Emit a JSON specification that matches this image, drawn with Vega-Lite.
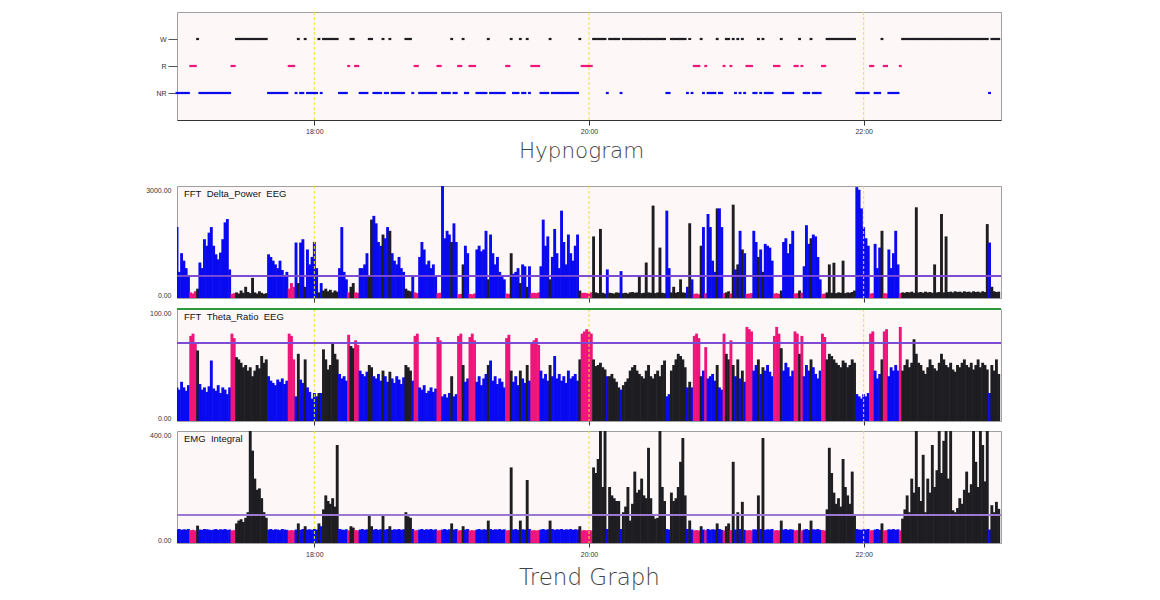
{
  "$schema": "https://vega.github.io/schema/vega-lite/v6.json",
  "background": "white",
  "padding": {"left": 145, "top": 11, "right": 10, "bottom": 5},
  "config": {
    "view": {"fill": "#fdf8f7", "stroke": "#a0a0a0"},
    "axis": {"labelFont": "Liberation Sans", "labelFontSize": 7, "labelColor": "#333", "grid": false, "domain": false, "ticks": false, "title": null},
    "scale": {"continuousPadding": 0},
    "legend": {"disable": true}
  },
  "datasets": {
    "ep": [
      {"t":0,"s":"NR","d":1900,"h":30,"e":48},{"t":1,"s":"NR","d":700,"h":28,"e":50},{"t":2,"s":"NR","d":1200,"h":35,"e":47},{"t":3,"s":"NR","d":1000,"h":30,"e":49},{"t":4,"s":"NR","d":800,"h":27,"e":48},{"t":5,"s":"NR","d":600,"h":32,"e":50},
      {"t":6,"s":"R","d":150,"h":76,"e":46},{"t":7,"s":"R","d":120,"h":78,"e":47},{"t":8,"s":"R","d":180,"h":70,"e":45},{"t":9,"s":"W","d":250,"h":63,"e":62},
      {"t":10,"s":"NR","d":950,"h":33,"e":48},{"t":11,"s":"NR","d":800,"h":28,"e":47},{"t":12,"s":"NR","d":1575,"h":30,"e":50},{"t":13,"s":"NR","d":1400,"h":26,"e":49},{"t":14,"s":"NR","d":1750,"h":31,"e":48},{"t":15,"s":"NR","d":1900,"h":54,"e":46},{"t":16,"s":"NR","d":1400,"h":29,"e":48},{"t":17,"s":"NR","d":1170,"h":27,"e":50},{"t":18,"s":"NR","d":1035,"h":32,"e":47},{"t":19,"s":"NR","d":1215,"h":25,"e":49},{"t":20,"s":"NR","d":1575,"h":30,"e":48},{"t":21,"s":"NR","d":2025,"h":28,"e":50},{"t":22,"s":"NR","d":2115,"h":24,"e":47},{"t":23,"s":"NR","d":765,"h":30,"e":48},
      {"t":24,"s":"R","d":110,"h":78,"e":45},{"t":25,"s":"R","d":130,"h":74,"e":46},
      {"t":26,"s":"W","d":150,"h":57,"e":70},{"t":27,"s":"W","d":120,"h":55,"e":80},{"t":28,"s":"W","d":200,"h":52,"e":85},{"t":29,"s":"W","d":140,"h":48,"e":75},{"t":30,"s":"W","d":300,"h":50,"e":90},{"t":31,"s":"W","d":160,"h":45,"e":110},{"t":32,"s":"W","d":130,"h":48,"e":400},{"t":33,"s":"W","d":540,"h":40,"e":330},{"t":34,"s":"W","d":150,"h":45,"e":230},{"t":35,"s":"W","d":120,"h":50,"e":190},{"t":36,"s":"W","d":180,"h":47,"e":195},{"t":37,"s":"W","d":140,"h":58,"e":160},{"t":38,"s":"W","d":110,"h":52,"e":110},{"t":39,"s":"W","d":130,"h":55,"e":90},
      {"t":40,"s":"NR","d":1170,"h":40,"e":48},{"t":41,"s":"NR","d":1100,"h":36,"e":50},{"t":42,"s":"NR","d":1000,"h":34,"e":47},{"t":43,"s":"NR","d":900,"h":32,"e":49},{"t":44,"s":"NR","d":800,"h":37,"e":48},{"t":45,"s":"NR","d":1000,"h":35,"e":46},{"t":46,"s":"NR","d":750,"h":38,"e":50},{"t":47,"s":"NR","d":600,"h":33,"e":48},{"t":48,"s":"NR","d":700,"h":36,"e":47},
      {"t":49,"s":"R","d":250,"h":78,"e":45},{"t":50,"s":"R","d":400,"h":76,"e":46},{"t":51,"s":"R","d":300,"h":55,"e":45},
      {"t":52,"s":"NR","d":1485,"h":22,"e":48},{"t":53,"s":"W","d":400,"h":60,"e":70},{"t":54,"s":"NR","d":1485,"h":37,"e":47},{"t":55,"s":"NR","d":1575,"h":34,"e":50},{"t":56,"s":"W","d":300,"h":55,"e":60},
      {"t":57,"s":"NR","d":1300,"h":30,"e":48},{"t":58,"s":"NR","d":900,"h":26,"e":49},{"t":59,"s":"NR","d":1100,"h":20,"e":47},{"t":60,"s":"NR","d":1500,"h":25,"e":50},{"t":61,"s":"NR","d":800,"h":22,"e":48},
      {"t":62,"s":"W","d":150,"h":25,"e":70},{"t":63,"s":"NR","d":400,"h":25,"e":60},
      {"t":64,"s":"W","d":200,"h":64,"e":120},{"t":65,"s":"W","d":250,"h":55,"e":170},{"t":66,"s":"W","d":180,"h":46,"e":150},{"t":67,"s":"W","d":220,"h":50,"e":140},{"t":68,"s":"W","d":150,"h":70,"e":160},{"t":69,"s":"W","d":200,"h":60,"e":130},{"t":70,"s":"W","d":170,"h":55,"e":350},
      {"t":71,"s":"NR","d":800,"h":42,"e":50},{"t":72,"s":"NR","d":1900,"h":38,"e":48},{"t":73,"s":"NR","d":700,"h":40,"e":47},{"t":74,"s":"NR","d":500,"h":36,"e":49},
      {"t":75,"s":"R","d":150,"h":77,"e":45},{"t":76,"s":"W","d":300,"h":67,"e":60},{"t":77,"s":"W","d":400,"h":65,"e":55},{"t":78,"s":"R","d":150,"h":72,"e":46},{"t":79,"s":"R","d":140,"h":68,"e":45},
      {"t":80,"s":"NR","d":800,"h":45,"e":48},{"t":81,"s":"NR","d":800,"h":42,"e":50},{"t":82,"s":"NR","d":900,"h":40,"e":47},{"t":83,"s":"NR","d":1200,"h":44,"e":49},
      {"t":84,"s":"W","d":600,"h":50,"e":100},{"t":85,"s":"W","d":2100,"h":48,"e":60},
      {"t":86,"s":"NR","d":2200,"h":40,"e":48},{"t":87,"s":"NR","d":2000,"h":38,"e":50},{"t":88,"s":"NR","d":1500,"h":42,"e":47},{"t":89,"s":"NR","d":1400,"h":36,"e":49},{"t":90,"s":"W","d":1700,"h":45,"e":100},{"t":91,"s":"NR","d":1600,"h":40,"e":48},{"t":92,"s":"NR","d":1900,"h":35,"e":50},{"t":93,"s":"W","d":1800,"h":44,"e":60},
      {"t":94,"s":"NR","d":1200,"h":38,"e":47},{"t":95,"s":"NR","d":1000,"h":34,"e":49},{"t":96,"s":"NR","d":900,"h":40,"e":48},{"t":97,"s":"NR","d":1100,"h":37,"e":50},{"t":98,"s":"NR","d":800,"h":33,"e":47},{"t":99,"s":"NR","d":700,"h":39,"e":49},
      {"t":100,"s":"W","d":250,"h":50,"e":110},{"t":101,"s":"W","d":200,"h":48,"e":95},{"t":102,"s":"W","d":180,"h":45,"e":90},{"t":103,"s":"NR","d":600,"h":36,"e":50},
      {"t":104,"s":"R","d":150,"h":76,"e":45},{"t":105,"s":"R","d":130,"h":78,"e":46},
      {"t":106,"s":"NR","d":1100,"h":30,"e":48},{"t":107,"s":"NR","d":1500,"h":28,"e":50},{"t":108,"s":"NR","d":1300,"h":32,"e":47},{"t":109,"s":"NR","d":900,"h":25,"e":49},{"t":110,"s":"NR","d":1000,"h":27,"e":48},{"t":111,"s":"NR","d":800,"h":30,"e":50},{"t":112,"s":"NR","d":900,"h":26,"e":47},{"t":113,"s":"NR","d":600,"h":29,"e":49},
      {"t":114,"s":"R","d":130,"h":75,"e":45},{"t":115,"s":"R","d":140,"h":72,"e":46},
      {"t":116,"s":"NR","d":3000,"h":22,"e":48},{"t":117,"s":"NR","d":1600,"h":24,"e":50},{"t":118,"s":"NR","d":1800,"h":21,"e":47},{"t":119,"s":"NR","d":1700,"h":25,"e":49},{"t":120,"s":"W","d":1500,"h":40,"e":70},{"t":121,"s":"NR","d":2000,"h":22,"e":48},{"t":122,"s":"NR","d":1500,"h":24,"e":50},
      {"t":123,"s":"R","d":100,"h":76,"e":45},{"t":124,"s":"R","d":110,"h":78,"e":46},{"t":125,"s":"W","d":900,"h":50,"e":60},{"t":126,"s":"NR","d":1400,"h":35,"e":48},{"t":127,"s":"NR","d":1200,"h":38,"e":50},
      {"t":128,"s":"R","d":110,"h":75,"e":45},{"t":129,"s":"R","d":100,"h":78,"e":46},{"t":130,"s":"R","d":120,"h":72,"e":45},
      {"t":131,"s":"NR","d":1300,"h":35,"e":48},{"t":132,"s":"NR","d":1400,"h":40,"e":50},{"t":133,"s":"NR","d":1250,"h":32,"e":47},{"t":134,"s":"NR","d":1300,"h":38,"e":49},{"t":135,"s":"NR","d":1800,"h":42,"e":48},{"t":136,"s":"W","d":500,"h":50,"e":80},
      {"t":137,"s":"NR","d":1700,"h":54,"e":50},{"t":138,"s":"NR","d":1200,"h":36,"e":47},{"t":139,"s":"NR","d":900,"h":40,"e":49},{"t":140,"s":"NR","d":1100,"h":33,"e":48},{"t":141,"s":"NR","d":700,"h":38,"e":50},{"t":142,"s":"NR","d":600,"h":35,"e":47},{"t":143,"s":"NR","d":500,"h":30,"e":49},
      {"t":144,"s":"R","d":120,"h":74,"e":45},{"t":145,"s":"R","d":110,"h":77,"e":46},{"t":146,"s":"W","d":1200,"h":45,"e":270},
      {"t":147,"s":"NR","d":650,"h":35,"e":48},{"t":148,"s":"NR","d":700,"h":40,"e":50},{"t":149,"s":"NR","d":800,"h":32,"e":47},{"t":150,"s":"W","d":400,"h":45,"e":80},{"t":151,"s":"NR","d":900,"h":38,"e":49},{"t":152,"s":"NR","d":850,"h":34,"e":48},{"t":153,"s":"W","d":300,"h":50,"e":225},{"t":154,"s":"NR","d":850,"h":36,"e":50},
      {"t":155,"s":"R","d":135,"h":70,"e":45},{"t":156,"s":"R","d":140,"h":72,"e":46},{"t":157,"s":"R","d":130,"h":74,"e":45},{"t":158,"s":"R","d":150,"h":68,"e":46},
      {"t":159,"s":"NR","d":850,"h":45,"e":48},{"t":160,"s":"NR","d":2100,"h":38,"e":50},{"t":161,"s":"NR","d":1400,"h":42,"e":47},{"t":162,"s":"NR","d":1650,"h":36,"e":49},{"t":163,"s":"W","d":500,"h":50,"e":80},
      {"t":164,"s":"NR","d":1100,"h":40,"e":50},{"t":165,"s":"NR","d":1850,"h":58,"e":47},{"t":166,"s":"NR","d":1200,"h":38,"e":49},{"t":167,"s":"NR","d":800,"h":42,"e":48},{"t":168,"s":"NR","d":2340,"h":36,"e":50},{"t":169,"s":"NR","d":1500,"h":40,"e":47},{"t":170,"s":"NR","d":900,"h":34,"e":49},{"t":171,"s":"NR","d":1700,"h":45,"e":48},{"t":172,"s":"NR","d":1200,"h":38,"e":50},{"t":173,"s":"NR","d":1000,"h":40,"e":47},{"t":174,"s":"NR","d":1400,"h":42,"e":49},{"t":175,"s":"NR","d":1700,"h":36,"e":48},
      {"t":176,"s":"W","d":200,"h":55,"e":60},
      {"t":177,"s":"R","d":135,"h":78,"e":45},{"t":178,"s":"R","d":140,"h":80,"e":46},{"t":179,"s":"R","d":130,"h":82,"e":45},{"t":180,"s":"R","d":120,"h":80,"e":46},{"t":181,"s":"R","d":150,"h":78,"e":45},
      {"t":182,"s":"W","d":1650,"h":55,"e":270},{"t":183,"s":"W","d":150,"h":49,"e":250},{"t":184,"s":"W","d":130,"h":50,"e":300},{"t":185,"s":"W","d":1850,"h":52,"e":400},{"t":186,"s":"W","d":140,"h":48,"e":200},{"t":187,"s":"W","d":120,"h":46,"e":400},{"t":188,"s":"NR","d":765,"h":40,"e":50},
      {"t":189,"s":"W","d":140,"h":40,"e":200},{"t":190,"s":"W","d":130,"h":42,"e":170},{"t":191,"s":"W","d":120,"h":38,"e":160},{"t":192,"s":"W","d":150,"h":35,"e":150},{"t":193,"s":"W","d":140,"h":30,"e":150},{"t":194,"s":"NR","d":720,"h":28,"e":50},
      {"t":195,"s":"W","d":130,"h":32,"e":110},{"t":196,"s":"W","d":140,"h":35,"e":130},{"t":197,"s":"W","d":120,"h":38,"e":200},{"t":198,"s":"W","d":150,"h":45,"e":80},{"t":199,"s":"W","d":160,"h":48,"e":140},{"t":200,"s":"W","d":140,"h":50,"e":255},{"t":201,"s":"W","d":150,"h":45,"e":180},{"t":202,"s":"W","d":600,"h":42,"e":190},{"t":203,"s":"W","d":130,"h":40,"e":230},{"t":204,"s":"W","d":140,"h":38,"e":170},{"t":205,"s":"W","d":950,"h":45,"e":160},{"t":206,"s":"W","d":150,"h":50,"e":340},{"t":207,"s":"W","d":140,"h":40,"e":160},{"t":208,"s":"W","d":2475,"h":38,"e":100},{"t":209,"s":"W","d":130,"h":42,"e":87},{"t":210,"s":"W","d":150,"h":45,"e":90},{"t":211,"s":"W","d":1350,"h":40,"e":400},{"t":212,"s":"W","d":140,"h":50,"e":200},{"t":213,"s":"W","d":130,"h":54,"e":150},
      {"t":214,"s":"NR","d":2340,"h":22,"e":50},{"t":215,"s":"NR","d":800,"h":24,"e":48},
      {"t":216,"s":"W","d":150,"h":45,"e":180},{"t":217,"s":"W","d":300,"h":50,"e":150},{"t":218,"s":"W","d":140,"h":55,"e":160},{"t":219,"s":"W","d":160,"h":60,"e":200},{"t":220,"s":"W","d":500,"h":58,"e":290},{"t":221,"s":"W","d":150,"h":55,"e":375},{"t":222,"s":"W","d":140,"h":48,"e":170},
      {"t":223,"s":"NR","d":300,"h":30,"e":50},{"t":224,"s":"W","d":2000,"h":35,"e":80},{"t":225,"s":"NR","d":500,"h":30,"e":48},
      {"t":226,"s":"R","d":110,"h":76,"e":45},{"t":227,"s":"R","d":120,"h":78,"e":46},{"t":228,"s":"R","d":100,"h":74,"e":45},
      {"t":229,"s":"W","d":1400,"h":40,"e":60},{"t":230,"s":"NR","d":1900,"h":45,"e":48},{"t":231,"s":"R","d":130,"h":66,"e":46},{"t":232,"s":"NR","d":2250,"h":38,"e":50},{"t":233,"s":"NR","d":1900,"h":40,"e":47},{"t":234,"s":"NR","d":1000,"h":42,"e":49},{"t":235,"s":"NR","d":700,"h":36,"e":48},{"t":236,"s":"W","d":2400,"h":50,"e":70},
      {"t":237,"s":"NR","d":2400,"h":30,"e":50},{"t":238,"s":"NR","d":1900,"h":28,"e":47},{"t":239,"s":"R","d":130,"h":78,"e":45},{"t":240,"s":"W","d":150,"h":60,"e":60},{"t":241,"s":"W","d":180,"h":55,"e":70},{"t":242,"s":"R","d":120,"h":72,"e":46},{"t":243,"s":"W","d":2500,"h":50,"e":290},
      {"t":244,"s":"NR","d":765,"h":40,"e":48},{"t":245,"s":"W","d":900,"h":55,"e":110},{"t":246,"s":"NR","d":1800,"h":38,"e":50},{"t":247,"s":"W","d":1300,"h":45,"e":147},{"t":248,"s":"NR","d":1200,"h":35,"e":47},
      {"t":249,"s":"R","d":110,"h":84,"e":45},{"t":250,"s":"R","d":120,"h":82,"e":46},{"t":251,"s":"R","d":130,"h":80,"e":45},
      {"t":252,"s":"NR","d":1800,"h":45,"e":49},{"t":253,"s":"NR","d":1500,"h":50,"e":48},{"t":254,"s":"W","d":1100,"h":55,"e":170},{"t":255,"s":"NR","d":1300,"h":42,"e":50},{"t":256,"s":"W","d":700,"h":48,"e":375},{"t":257,"s":"NR","d":1450,"h":45,"e":47},{"t":258,"s":"NR","d":1400,"h":50,"e":49},{"t":259,"s":"NR","d":1350,"h":44,"e":48},{"t":260,"s":"NR","d":1000,"h":40,"e":50},
      {"t":261,"s":"R","d":120,"h":76,"e":45},{"t":262,"s":"R","d":130,"h":84,"e":46},{"t":263,"s":"R","d":110,"h":78,"e":45},{"t":264,"s":"W","d":200,"h":65,"e":80},
      {"t":265,"s":"NR","d":1500,"h":45,"e":48},{"t":266,"s":"NR","d":1600,"h":52,"e":50},{"t":267,"s":"NR","d":1200,"h":48,"e":47},{"t":268,"s":"NR","d":1450,"h":40,"e":49},{"t":269,"s":"NR","d":1800,"h":45,"e":48},
      {"t":270,"s":"R","d":120,"h":80,"e":45},{"t":271,"s":"R","d":130,"h":78,"e":46},{"t":272,"s":"W","d":200,"h":60,"e":70},{"t":273,"s":"R","d":140,"h":76,"e":45},
      {"t":274,"s":"NR","d":850,"h":40,"e":48},{"t":275,"s":"NR","d":1950,"h":50,"e":50},{"t":276,"s":"NR","d":1450,"h":45,"e":47},{"t":277,"s":"W","d":1600,"h":55,"e":80},{"t":278,"s":"NR","d":1700,"h":48,"e":49},{"t":279,"s":"NR","d":1650,"h":42,"e":48},{"t":280,"s":"NR","d":1100,"h":38,"e":50},{"t":281,"s":"NR","d":500,"h":45,"e":47},
      {"t":282,"s":"R","d":110,"h":78,"e":46},{"t":283,"s":"R","d":120,"h":75,"e":45},
      {"t":284,"s":"W","d":150,"h":55,"e":120},{"t":285,"s":"W","d":900,"h":60,"e":340},{"t":286,"s":"W","d":140,"h":58,"e":250},{"t":287,"s":"W","d":945,"h":55,"e":180},{"t":288,"s":"W","d":130,"h":52,"e":140},{"t":289,"s":"W","d":150,"h":50,"e":160},{"t":290,"s":"W","d":140,"h":48,"e":130},{"t":291,"s":"W","d":1000,"h":54,"e":300},{"t":292,"s":"W","d":130,"h":52,"e":200},{"t":293,"s":"W","d":150,"h":48,"e":170},{"t":294,"s":"W","d":140,"h":50,"e":140},{"t":295,"s":"W","d":160,"h":55,"e":255},{"t":296,"s":"W","d":200,"h":52,"e":100},
      {"t":297,"s":"NR","d":2970,"h":24,"e":50},{"t":298,"s":"NR","d":2900,"h":22,"e":48},{"t":299,"s":"NR","d":2400,"h":20,"e":47},{"t":300,"s":"NR","d":1900,"h":24,"e":49},{"t":301,"s":"NR","d":1600,"h":22,"e":48},{"t":302,"s":"NR","d":1400,"h":25,"e":50},
      {"t":303,"s":"R","d":120,"h":78,"e":45},{"t":304,"s":"R","d":130,"h":80,"e":46},
      {"t":305,"s":"NR","d":1450,"h":45,"e":48},{"t":306,"s":"NR","d":800,"h":38,"e":50},{"t":307,"s":"NR","d":1350,"h":42,"e":47},{"t":308,"s":"W","d":1800,"h":55,"e":70},
      {"t":309,"s":"R","d":130,"h":80,"e":45},{"t":310,"s":"R","d":120,"h":82,"e":46},
      {"t":311,"s":"NR","d":1300,"h":40,"e":49},{"t":312,"s":"NR","d":800,"h":48,"e":48},{"t":313,"s":"NR","d":1200,"h":45,"e":50},{"t":314,"s":"NR","d":1800,"h":50,"e":47},{"t":315,"s":"NR","d":900,"h":45,"e":49},
      {"t":316,"s":"R","d":130,"h":84,"e":45},
      {"t":317,"s":"W","d":150,"h":45,"e":87},{"t":318,"s":"W","d":140,"h":50,"e":120},{"t":319,"s":"W","d":160,"h":55,"e":170},{"t":320,"s":"W","d":150,"h":48,"e":110},{"t":321,"s":"W","d":170,"h":52,"e":230},{"t":322,"s":"W","d":140,"h":73,"e":180},{"t":323,"s":"W","d":2430,"h":60,"e":400},{"t":324,"s":"W","d":150,"h":52,"e":200},{"t":325,"s":"W","d":160,"h":50,"e":150},{"t":326,"s":"W","d":140,"h":45,"e":315},
      {"t":327,"s":"W","d":170,"h":42,"e":110},{"t":328,"s":"W","d":150,"h":48,"e":230},{"t":329,"s":"W","d":160,"h":55,"e":180},{"t":330,"s":"W","d":140,"h":50,"e":350},{"t":331,"s":"W","d":900,"h":47,"e":200},{"t":332,"s":"W","d":150,"h":45,"e":260},{"t":333,"s":"W","d":160,"h":52,"e":400},{"t":334,"s":"W","d":2250,"h":60,"e":250},{"t":335,"s":"W","d":150,"h":55,"e":365},{"t":336,"s":"W","d":1650,"h":50,"e":400},
      {"t":337,"s":"W","d":160,"h":48,"e":230},{"t":338,"s":"W","d":170,"h":52,"e":400},{"t":339,"s":"W","d":150,"h":46,"e":117},{"t":340,"s":"W","d":180,"h":44,"e":110},{"t":341,"s":"W","d":160,"h":50,"e":125},{"t":342,"s":"W","d":170,"h":48,"e":160},{"t":343,"s":"W","d":150,"h":52,"e":140},{"t":344,"s":"W","d":180,"h":55,"e":190},{"t":345,"s":"W","d":160,"h":50,"e":255},{"t":346,"s":"W","d":170,"h":48,"e":180},
      {"t":347,"s":"W","d":150,"h":52,"e":210},{"t":348,"s":"W","d":180,"h":46,"e":400},{"t":349,"s":"W","d":160,"h":50,"e":290},{"t":350,"s":"W","d":170,"h":55,"e":200},{"t":351,"s":"W","d":150,"h":48,"e":400},{"t":352,"s":"W","d":180,"h":52,"e":350},{"t":353,"s":"W","d":160,"h":50,"e":220},{"t":354,"s":"W","d":1980,"h":46,"e":400},
      {"t":355,"s":"NR","d":1485,"h":25,"e":48},
      {"t":356,"s":"W","d":300,"h":50,"e":135},{"t":357,"s":"W","d":180,"h":45,"e":110},{"t":358,"s":"W","d":160,"h":55,"e":147},{"t":359,"s":"W","d":170,"h":42,"e":122}
    ],
    "hours": [{"t": 60}, {"t": 180}, {"t": 300}],
    "one": [{}]
  },
  "spacing": 23,
  "vconcat": [
    {
      "width": 824,
      "height": 108,
      "data": {"name": "ep"},
      "layer": [
        {
          "data": {"name": "hours"},
          "mark": {"type": "rule", "color": "#ece23a", "strokeDash": [3, 2], "strokeWidth": 1},
          "encoding": {"x": {"field": "t", "type": "quantitative", "scale": {"domain": [0, 360], "padding": 0, "nice": false}}}
        },
        {
          "mark": {"type": "tick", "orient": "horizontal", "size": 2.9, "thickness": 2.2, "opacity": 1},
          "encoding": {
            "x": {
              "field": "t", "type": "quantitative", "scale": {"domain": [0, 360], "padding": 0, "nice": false},
              "axis": {"values": [60, 180, 300], "labelExpr": "floor(17 + datum.value / 60) + ':00'", "domain": true, "domainColor": "#333", "ticks": true, "tickSize": 5, "tickColor": "#333", "labelPadding": 2,
                "title": "Hypnogram", "titleFont": "DejaVu Sans", "titleFontWeight": 200, "titleFontSize": 21.5, "titleColor": "#444", "titlePadding": 6, "titleX": 404, "titleAnchor": "middle"}
            },
            "y": {
              "field": "s", "type": "ordinal", "scale": {"type": "point", "domain": ["W", "R", "NR"], "padding": 1.08},
              "axis": {"ticks": true, "tickSize": 9, "tickColor": "#555", "labelPadding": 2}
            },
            "color": {"field": "s", "type": "nominal", "scale": {"domain": ["W", "R", "NR"], "range": ["#1e1e22", "#f0157a", "#0a0af0"]}}
          }
        }
      ]
    },
    {
      "spacing": 4,
      "vconcat": [
        {
          "width": 824,
          "height": 112,
          "data": {"name": "ep"},
          "layer": [
            {
              "mark": {"type": "bar", "size": 2.9, "clip": true},
              "encoding": {
                "x": {"field": "t", "type": "quantitative", "scale": {"domain": [0, 360], "padding": 0, "nice": false},
                  "axis": {"values": [60, 180, 300], "labels": false, "ticks": true, "tickSize": 4, "tickColor": "#333", "labelPadding": 0}},
                "y": {"field": "d", "type": "quantitative", "scale": {"domain": [0, 3000], "nice": false},
                  "axis": {"values": [0, 3000], "format": ".2f", "labelFlush": true, "labelPadding": 6}},
                "color": {"field": "s", "type": "nominal", "scale": {"domain": ["W", "R", "NR"], "range": ["#26262b", "#f5157a", "#0505f0"]}}
              }
            },
            {
              "data": {"name": "hours"},
              "mark": {"type": "rule", "color": "#ece23a", "strokeDash": [3, 2], "strokeWidth": 1},
              "encoding": {"x": {"field": "t", "type": "quantitative", "scale": {"domain": [0, 360], "padding": 0, "nice": false}}}
            },
            {
              "mark": {"type": "rule", "color": "#7b4fd6", "strokeWidth": 1},
              "encoding": {"y": {"datum": 600, "type": "quantitative"}}
            },
            {
              "data": {"name": "one"},
              "mark": {"type": "text", "align": "left", "baseline": "top", "dx": 7, "dy": 3, "font": "Liberation Sans", "fontSize": 9.5, "color": "#111"},
              "encoding": {
                "x": {"datum": 0, "type": "quantitative"},
                "y": {"datum": 3000, "type": "quantitative"},
                "text": {"value": "FFT\u00a0\u00a0Delta_Power\u00a0\u00a0EEG"}
              }
            }
          ]
        },
        {
          "width": 824,
          "height": 112,
          "data": {"name": "ep"},
          "layer": [
            {
              "mark": {"type": "bar", "size": 2.9, "clip": true},
              "encoding": {
                "x": {"field": "t", "type": "quantitative", "scale": {"domain": [0, 360], "padding": 0, "nice": false},
                  "axis": {"values": [60, 180, 300], "labels": false, "ticks": true, "tickSize": 4, "tickColor": "#333", "labelPadding": 0}},
                "y": {"field": "h", "type": "quantitative", "scale": {"domain": [0, 100], "nice": false},
                  "axis": {"values": [0, 100], "format": ".2f", "labelFlush": true, "labelPadding": 6}},
                "color": {"field": "s", "type": "nominal", "scale": {"domain": ["W", "R", "NR"], "range": ["#26262b", "#f5157a", "#0505f0"]}}
              }
            },
            {
              "data": {"name": "hours"},
              "mark": {"type": "rule", "color": "#ece23a", "strokeDash": [3, 2], "strokeWidth": 1},
              "encoding": {"x": {"field": "t", "type": "quantitative", "scale": {"domain": [0, 360], "padding": 0, "nice": false}}}
            },
            {
              "mark": {"type": "rule", "color": "#7b4fd6", "strokeWidth": 1},
              "encoding": {"y": {"datum": 70, "type": "quantitative"}}
            },
            {
              "mark": {"type": "rule", "color": "#2f9a3a", "strokeWidth": 2},
              "encoding": {"y": {"datum": 100, "type": "quantitative"}}
            },
            {
              "data": {"name": "one"},
              "mark": {"type": "text", "align": "left", "baseline": "top", "dx": 7, "dy": 3, "font": "Liberation Sans", "fontSize": 9.5, "color": "#111"},
              "encoding": {
                "x": {"datum": 0, "type": "quantitative"},
                "y": {"datum": 100, "type": "quantitative"},
                "text": {"value": "FFT\u00a0\u00a0Theta_Ratio\u00a0\u00a0EEG"}
              }
            }
          ]
        },
        {
          "width": 824,
          "height": 112,
          "data": {"name": "ep"},
          "layer": [
            {
              "mark": {"type": "bar", "size": 2.9, "clip": true},
              "encoding": {
                "x": {"field": "t", "type": "quantitative", "scale": {"domain": [0, 360], "padding": 0, "nice": false},
                  "axis": {"values": [60, 180, 300], "labelExpr": "floor(17 + datum.value / 60) + ':00'", "ticks": true, "tickSize": 4, "tickColor": "#333", "labelPadding": 3,
                    "title": "Trend Graph", "titleFont": "DejaVu Sans", "titleFontWeight": 200, "titleFontSize": 23, "titleColor": "#444", "titlePadding": 9}},
                "y": {"field": "e", "type": "quantitative", "scale": {"domain": [0, 400], "nice": false},
                  "axis": {"values": [0, 400], "format": ".2f", "labelFlush": true, "labelPadding": 6}},
                "color": {"field": "s", "type": "nominal", "scale": {"domain": ["W", "R", "NR"], "range": ["#26262b", "#f5157a", "#0505f0"]}}
              }
            },
            {
              "data": {"name": "hours"},
              "mark": {"type": "rule", "color": "#ece23a", "strokeDash": [3, 2], "strokeWidth": 1},
              "encoding": {"x": {"field": "t", "type": "quantitative", "scale": {"domain": [0, 360], "padding": 0, "nice": false}}}
            },
            {
              "mark": {"type": "rule", "color": "#9a78d4", "strokeWidth": 2},
              "encoding": {"y": {"datum": 100, "type": "quantitative"}}
            },
            {
              "data": {"name": "one"},
              "mark": {"type": "text", "align": "left", "baseline": "top", "dx": 7, "dy": 3, "font": "Liberation Sans", "fontSize": 9.5, "color": "#111"},
              "encoding": {
                "x": {"datum": 0, "type": "quantitative"},
                "y": {"datum": 400, "type": "quantitative"},
                "text": {"value": "EMG\u00a0\u00a0Integral"}
              }
            }
          ]
        }
      ]
    }
  ]
}
